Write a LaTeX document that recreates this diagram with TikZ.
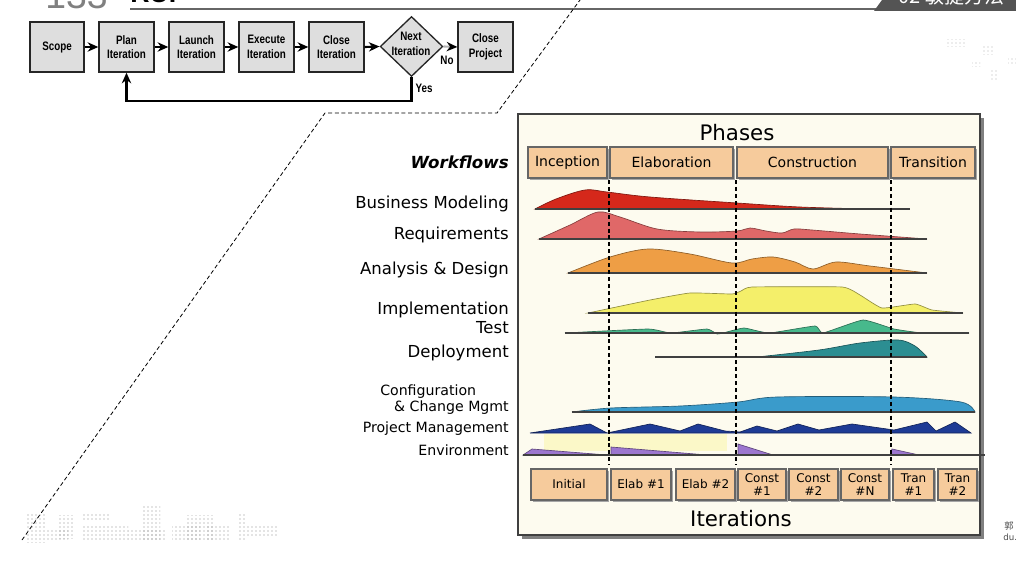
\documentclass[tikz,border=0pt]{standalone}
\usepackage{fontspec}
\setmainfont{DejaVu Sans}
\newfontfamily\flowfont[FakeStretch=0.8]{Liberation Sans}
\newfontfamily\hdrfont{Liberation Sans}
\newfontfamily\cjkfont{Noto Sans CJK SC}
\usetikzlibrary{arrows.meta,shapes.geometric,fit,patterns}
\definecolor{cream}{HTML}{FDFBEF}
\definecolor{phasef}{HTML}{F6CB9C}
\definecolor{bmc}{HTML}{D5281B}
\definecolor{reqc}{HTML}{E06868}
\definecolor{adc}{HTML}{EE9E45}
\definecolor{implc}{HTML}{F4EF6A}
\definecolor{testc}{HTML}{47B98C}
\definecolor{depc}{HTML}{2C8E92}
\definecolor{cfgc}{HTML}{3A9BCB}
\definecolor{pmc}{HTML}{1E3B95}
\definecolor{envc}{HTML}{9C76CF}
\definecolor{envband}{HTML}{FBF8C8}
\newcommand\mkbox[8]{%
  \fill[black!35] (#4+2,#5+2) rectangle (#6+2,#7+2);
  \node[#1, fit={(#4,#5) (#6,#7)}] (#3) {};
  \node[#2] at (#3.center) {#8};}
\newcommand\flowbox[6]{%
  \node[fbox, fit={(#2,#3) (#4,#5)}] (#1) {};
  \node[ftext] at (#1.center) {#6};}
\begin{document}
\begin{tikzpicture}[x=0.75pt,y=-0.75pt,
  fbox/.style={draw=black!85, fill=black!13, line width=1pt, inner sep=0pt},
  ftext/.style={inner sep=0pt, align=center, font=\flowfont\bfseries\fontsize{9.2}{11}\selectfont},
  farrow/.style={line width=1.6pt, -{Stealth[length=8pt,width=7pt]}},
  phasebox/.style={draw=black!60, fill=phasef, line width=0.8pt, inner sep=0pt},
  phasetext/.style={inner sep=0pt, align=center, font=\fontsize{10.5}{12}\selectfont},
  itertext/.style={inner sep=0pt, align=center, font=\fontsize{9}{9.6}\selectfont},
  wflabel/.style={anchor=base east, inner sep=0pt, font=\fontsize{12.4}{14}\selectfont},
  wfsmall/.style={anchor=base east, inner sep=0pt, font=\fontsize{10.6}{12}\selectfont},
  curve/.style={fill=#1, draw=#1!60!black, line width=0.5pt},
  base/.style={line width=0.8pt, draw=black!75},
  phaseline/.style={line width=1.6pt, dash pattern=on 3pt off 2.2pt},
  skyline/.style={pattern=dots, pattern color=black!45}]
\useasboundingbox (0,0) rectangle (1016,567);
\clip (0,0) rectangle (1016,567);

% ---------- header ----------
\node[anchor=base west, inner sep=0pt, text=black!50, font=\hdrfont\fontsize{28}{28}\selectfont] (pagenum) at (45,9) {133};
\node[anchor=base west, inner sep=0pt, font=\hdrfont\bfseries\fontsize{20}{20}\selectfont] (rup) at (130,3) {RUP};
\draw[black!60, line width=1.5pt] (130,9) -- (880,9);
\fill[black!67] (874,11) -- (882,0) -- (1016,0) -- (1016,11) -- cycle;
\node[anchor=base west, inner sep=0pt, text=white, font=\cjkfont\fontsize{15}{15}\selectfont] (chap) at (898,4) {02 敏捷方法};

% ---------- dashed zoom line ----------
\draw[black, line width=0.6pt, dash pattern=on 3pt off 2pt] (22,540) -- (325,113) -- (497,113) -- (580,0) -- (590,-14);

% ---------- flow chart ----------
\flowbox{scope}{30}{22}{84}{72}{Scope}
\flowbox{plan}{99}{22}{154}{72}{Plan\\Iteration}
\flowbox{launch}{169}{22}{224}{72}{Launch\\Iteration}
\flowbox{exec}{239}{22}{294}{72}{Execute\\Iteration}
\flowbox{closeit}{309}{22}{364}{72}{Close\\Iteration}
\node[draw=black!85, fill=black!13, line width=1pt, diamond, minimum width=47pt, minimum height=45pt, inner sep=0pt] (next) at (411.5,46.5) {};
\node[ftext] (nexttxt) at (411,44) {Next\\Iteration};
\flowbox{closepr}{458}{22}{513}{72}{Close\\Project}
\draw[farrow] (scope) -- (plan);
\draw[farrow] (plan) -- (launch);
\draw[farrow] (launch) -- (exec);
\draw[farrow] (exec) -- (closeit);
\draw[farrow] (closeit.east) -- (next.west);
\draw[line width=1.6pt, draw=black!30, -{Stealth[length=8pt,width=7pt,color=black]}] (next.east) -- (closepr.west);
\draw[farrow] (next.south) -- (next.south |- 0,101) -| (plan.south);
\node[ftext] (yes) at (424,88) {Yes};
\node[ftext] (no) at (447,60) {No};

% ---------- skyline decoration ----------
\fill[skyline] (27,514) rectangle (45,542);
\fill[skyline] (45,528) rectangle (68,540);
\fill[skyline] (58,515) rectangle (75,538);
\fill[skyline] (83,525) rectangle (128,540);
\fill[skyline] (83,513) rectangle (110,521);
\fill[skyline] (128,530) rectangle (165,540);
\fill[skyline] (143,505) rectangle (160,540);
\fill[skyline] (172,525) rectangle (200,540);
\fill[skyline] (185,515) rectangle (215,540);
\fill[skyline] (205,525) rectangle (230,540);
\fill[skyline] (237,512) rectangle (245,540);
\fill[skyline] (245,525) rectangle (278,535);
\fill[pattern=dots, pattern color=black!30] (945,40) rectangle (965,47);
\fill[pattern=dots, pattern color=black!30] (983,45) rectangle (995,55);
\fill[pattern=dots, pattern color=black!30] (972,62) rectangle (980,67);
\fill[pattern=dots, pattern color=black!30] (990,70) rectangle (998,80);
\fill[pattern=dots, pattern color=black!30] (1008,58) rectangle (1016,64);

% ---------- bottom-right cut text ----------
\node[anchor=west, inner sep=0pt, text=black!70, font=\cjkfont\fontsize{7}{7}\selectfont] (cut1) at (1004,526) {郭};
\node[anchor=west, inner sep=0pt, text=black!70, font=\fontsize{6.5}{7}\selectfont] (cut2) at (1003,537) {du.};

% ---------- RUP diagram ----------
\fill[black!50] (522,118) rectangle (984,539);
\node[fit={(518,114) (980,535)}, inner sep=0pt, fill=cream, draw=black!75, line width=1pt] (rupbox) {};
\node[anchor=base, inner sep=0pt, font=\fontsize{16}{18}\selectfont] (phases) at (737,140) {Phases};
\node[anchor=base, inner sep=0pt, font=\fontsize{16}{18}\selectfont] (iters) at (741,526) {Iterations};

\mkbox{phasebox}{phasetext}{inc}{528}{147}{607}{178}{Inception}
\mkbox{phasebox}{phasetext}{ela}{610}{147}{733}{178}{Elaboration}
\mkbox{phasebox}{phasetext}{con}{737}{147}{888}{178}{Construction}
\mkbox{phasebox}{phasetext}{tra}{891}{147}{975}{178}{Transition}

% workflow labels
\node[anchor=base east, inner sep=0pt, font=\bfseries\itshape\fontsize{12.5}{14}\selectfont] (wf) at (509,168) {Workflows};
\node[wflabel] (lbm) at (509,208) {Business Modeling};
\node[wflabel] (lreq) at (509,239) {Requirements};
\node[wflabel] (lad) at (509,274) {Analysis \& Design};
\node[wflabel] (limpl) at (509,314) {Implementation};
\node[wflabel] (ltest) at (509,333) {Test};
\node[wflabel] (ldep) at (509,357) {Deployment};
\node[anchor=base west, inner sep=0pt, font=\fontsize{10.6}{12}\selectfont] (lcfg1) at (380,395) {Configuration};
\node[wfsmall] (lcfg2) at (509,411) {\& Change Mgmt};
\node[wfsmall] (lpm) at (509,432) {Project Management};
\node[wfsmall] (lenv) at (509,455) {Environment};

% env band
\fill[envband] (544,434) rectangle (727,451);

% curves
\filldraw[curve=bmc] plot[smooth, tension=0.55] coordinates {(535,209) (556,199) (585,190) (607,192) (650,197) (737,203) (800,207) (869,209)} -- cycle;
\draw[base] (535,209) -- (910,209);

\filldraw[curve=reqc] plot[smooth, tension=0.5] coordinates {(539,239) (570,225) (598,212) (620,217) (657,229) (700,232) (737,231) (750,228) (766,231) (782,233) (794,229) (812,230) (860,234) (927,239)} -- cycle;
\draw[base] (539,239) -- (927,239);

\filldraw[curve=adc] plot[smooth, tension=0.5] coordinates {(568,273) (610,257) (648,249) (690,254) (732,263) (752,259) (773,257) (795,262) (813,269) (836,262) (870,266) (927,273)} -- cycle;
\draw[base] (568,273) -- (927,273);

\filldraw[curve=implc] plot[smooth, tension=0.25] coordinates {(588,313) (650,300) (690,293) (732,294) (741,291) (752,287) (842,287) (860,295) (882,308) (915,304) (932,310) (963,313)} -- cycle;
\draw[base] (588,313) -- (963,313);

\filldraw[curve=testc] plot[smooth, tension=0.25] coordinates {(565,333) (648,329) (671,333) (707,329) (717,334) (723,333) (744,328) (769,333) (815,326) (823,333) (863,320) (894,329) (923,333) (969,333)} -- cycle;
\draw[base] (565,333) -- (969,333);

\filldraw[curve=depc] plot[smooth, tension=0.5] coordinates {(757,357) (819,350) (860,343) (898,340) (915,346) (927,357)} -- cycle;
\draw[base] (655,357) -- (927,357);

\filldraw[curve=cfgc] plot[smooth, tension=0.5] coordinates {(572,412) (611,408) (680,406) (738,402) (777,397) (894,397) (961,402) (975,412)} -- cycle;
\draw[base] (572,412) -- (975,412);

\filldraw[curve=pmc] (530,433) -- (590,424) -- (607,433) -- (650,424) -- (680,431) -- (698,424) -- (725,431) -- (740,432) -- (757,426) -- (777,431) -- (798,424) -- (819,430) -- (852,424) -- (894,430) -- (927,422) -- (936,431) -- (955,422) -- (971,433) -- cycle;

\filldraw[curve=envc] (523,455) -- (532,449) -- (607,455) -- cycle;
\filldraw[curve=envc] (611,455) -- (611,447) -- (707,455) -- cycle;
\filldraw[curve=envc] (738,455) -- (738,444) -- (773,455) -- cycle;
\filldraw[curve=envc] (890,455) -- (892,449) -- (919,455) -- cycle;
\draw[base] (523,455) -- (985,455);

% phase separators
\coordinate (s1t) at (609,180); \coordinate (s1b) at (609,465);
\coordinate (s2t) at (736,180); \coordinate (s2b) at (736,465);
\coordinate (s3t) at (891,180); \coordinate (s3b) at (891,465);
\draw[phaseline] (s1t) -- (s1b);
\draw[phaseline] (s2t) -- (s2b);
\draw[phaseline] (s3t) -- (s3b);

% iteration boxes
\mkbox{phasebox}{itertext}{it1}{531}{469}{607}{500}{Initial}
\mkbox{phasebox}{itertext}{it2}{611}{469}{671}{500}{Elab \#1}
\mkbox{phasebox}{itertext}{it3}{676}{469}{735}{500}{Elab \#2}
\mkbox{phasebox}{itertext}{it4}{738}{469}{786}{500}{Const\\\#1}
\mkbox{phasebox}{itertext}{it5}{789}{469}{838}{500}{Const\\\#2}
\mkbox{phasebox}{itertext}{it6}{841}{469}{889}{500}{Const\\\#N}
\mkbox{phasebox}{itertext}{it7}{893}{469}{934}{500}{Tran\\\#1}
\mkbox{phasebox}{itertext}{it8}{938}{469}{977}{500}{Tran\\\#2}
\end{tikzpicture}
\end{document}
